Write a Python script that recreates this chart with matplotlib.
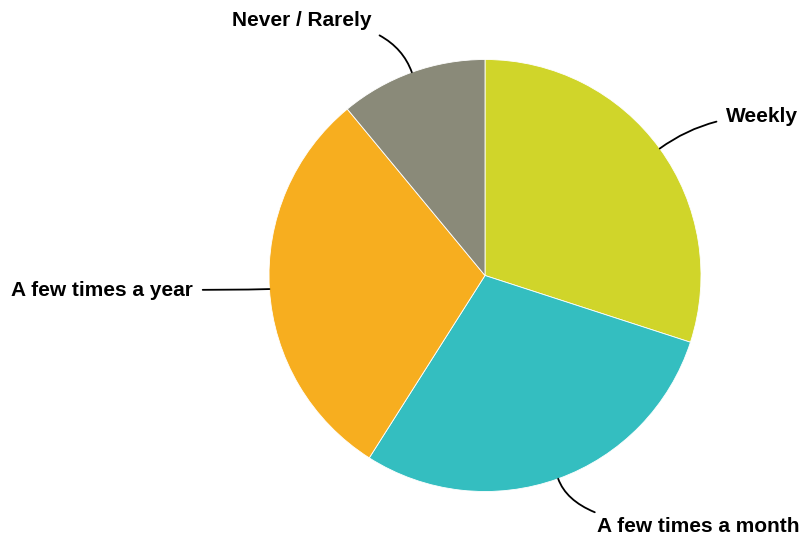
import numpy as np
import matplotlib
matplotlib.use("Agg")
import matplotlib.pyplot as plt

# data
labels = ["Weekly", "A few times a month", "A few times a year", "Never / Rarely"]
values = [30, 29, 30, 11]
colors = ["#D0D52A", "#34BEC0", "#F7AE1F", "#8A8A79"]

# label anchor positions in pixel coords (y up), text alignment
text_pos = [(726, 426), (597, 15), (193, 252), (372, 522)]
text_ha = ["left", "left", "right", "right"]

plt.rcParams["font.family"] = ["Liberation Sans", "DejaVu Sans"]

fig = plt.figure(figsize=(8, 5.42), dpi=100)
ax = fig.add_axes([0, 0, 1, 1])
ax.set_xlim(0, 800)
ax.set_ylim(0, 542)
ax.axis("off")

cx, cy, r = 485, 266.5, 216
wedges, _ = ax.pie(values, colors=colors, startangle=90, counterclock=False,
                   center=(cx, cy), radius=r, frame=True,
                   wedgeprops=dict(edgecolor="white", linewidth=0.6))
ax.set_xlim(0, 800)
ax.set_ylim(0, 542)
ax.set_aspect("auto")
ax.axis("off")

for w, lab, pos, ha in zip(wedges, labels, text_pos, text_ha):
    mid = (w.theta1 + w.theta2) / 2
    ex = cx + r * np.cos(np.radians(mid))
    ey = cy + r * np.sin(np.radians(mid))
    ax.annotate(lab, xy=(ex, ey), xytext=pos, ha=ha, va="center",
                fontsize=15, fontweight="bold", color="black",
                arrowprops=dict(arrowstyle="-", color="black", lw=1.3,
                                shrinkA=5, shrinkB=0,
                                connectionstyle="angle3,angleA=0,angleB=%.1f" % mid))

fig.savefig("out.png", dpi=100, facecolor="white")
